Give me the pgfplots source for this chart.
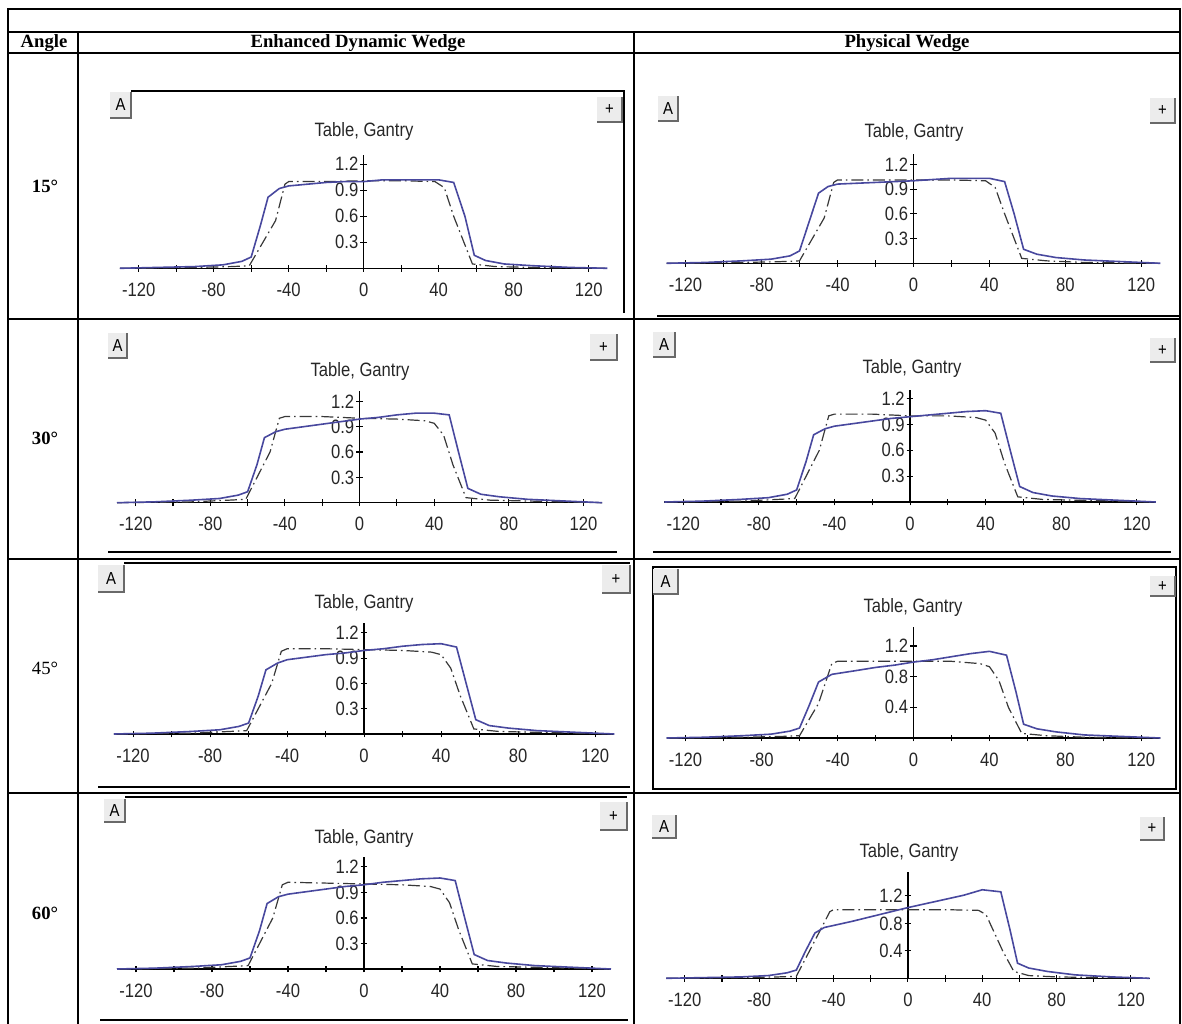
\documentclass[border=0pt]{standalone}
\usepackage{fontspec}
\setmainfont{Liberation Serif}
\newfontfamily\plotfont[FakeStretch=0.86]{Liberation Sans}
\usepackage{pgfplots}
\pgfplotsset{compat=1.18}
\definecolor{sol}{RGB}{72,72,158}
\definecolor{btn}{RGB}{236,236,236}
\definecolor{shd}{RGB}{105,105,105}
\pgfplotsset{
  panel/.style={
    scale only axis, axis lines=middle,
    axis line style={-, black, line width=1.0pt},
    xmin=-130, xmax=130, ymin=0,
    xtick={-120,-80,...,120}, minor xtick={-100,-60,-20,20,60,100},
    hide obscured x ticks=false, hide obscured y ticks=false,
    tick align=center, major tick length=5pt, minor tick length=5pt,
    every tick/.style={black, line width=0.8pt},
    every minor tick/.style={black, line width=0.8pt},
    every tick label/.append style={font=\plotfont\fontsize{14.5}{14.5}\selectfont, text=black!85},
    /pgf/number format/assume math mode=true,
    xticklabel style={yshift=-5pt},
    yticklabel style={xshift=2pt},
    clip=false,
  },
  sl/.style={sol, line width=1.2pt},
  dl/.style={black!78, line width=0.9pt, dash pattern=on 9pt off 3pt on 1.2pt off 3pt},
}
\newcommand{\btn}[5]{%
  \fill[btn] (#1,#2) rectangle (#3,#4);
  \draw[shd, line width=1.1pt] (#1,#4) -- (#3,#4) -- (#3,#2);
  \node[font=\plotfont\fontsize{13}{13}\selectfont, inner sep=0pt] at ({(#1+#3)/2},{(#2+#4)/2}) {#5};
}
\newcommand{\ttl}[2]{\node[font=\plotfont\fontsize{14.5}{14.5}\selectfont, text=black!85] at (#1,#2) {Table, Gantry};}
\begin{document}
\begin{tikzpicture}[x=0.75pt, y=-0.75pt]
\useasboundingbox (0,0) rectangle (1182,1024);
% ---------------- table grid
\draw[black, line width=1.1pt] (8,1024) -- (8,9) -- (1180,9) -- (1180,1024);
\draw[black, line width=1.1pt] (8,32) -- (1180,32);
\draw[black, line width=1.1pt] (8,53) -- (1180,53);
\draw[black, line width=1.1pt] (8,319) -- (1180,319);
\draw[black, line width=1.1pt] (8,559) -- (1180,559);
\draw[black, line width=1.1pt] (8,793) -- (1180,793);
\draw[black, line width=1.1pt] (78,32) -- (78,1024);
\draw[black, line width=1.1pt] (634,32) -- (634,1024);
\node[font=\bfseries\fontsize{14}{14}\selectfont] at (44,43) {Angle};
\node[font=\bfseries\fontsize{14}{14}\selectfont] at (358,43) {Enhanced Dynamic Wedge};
\node[font=\bfseries\fontsize{14}{14}\selectfont] at (907,43) {Physical Wedge};
\node[font=\bfseries\fontsize{14}{14}\selectfont] at (45,186) {15°};
\node[font=\bfseries\fontsize{14}{14}\selectfont] at (45,438) {30°};
\node[font=\fontsize{14}{14}\selectfont] at (45,668) {45°};
\node[font=\bfseries\fontsize{14}{14}\selectfont] at (45,913) {60°};
% ---------------- panel decorations
% EDW 15
\draw[black, line width=0.9pt] (131,91) -- (624,91) -- (624,313);
\btn{110}{92}{131}{118}{A}
\btn{597}{97}{622}{122}{+}
\ttl{364}{132}
% PW 15
\btn{658}{96}{678}{121}{A}
\btn{1150}{98}{1175}{123}{+}
\ttl{914}{133}
\draw[black, line width=0.9pt] (657,316) -- (1180,316);
% EDW 30
\btn{108}{333}{127}{358}{A}
\btn{590}{334}{617}{360}{+}
\ttl{360}{371}
\draw[black, line width=0.9pt] (108,552) -- (617,552);
% PW 30
\btn{653}{332}{675}{357}{A}
\btn{1150}{338}{1175}{362}{+}
\ttl{912}{368}
\draw[black, line width=0.9pt] (653,552) -- (1171,552);
% EDW 45
\draw[black, line width=0.9pt] (124,563) -- (630,563);
\btn{98}{565}{124}{592}{A}
\btn{602}{565}{630}{593}{+}
\ttl{364}{603}
\draw[black, line width=0.9pt] (98,787) -- (630,787);
% PW 45
\draw[black, line width=0.9pt] (653,567) rectangle (1176,789);
\btn{653}{569}{678}{594}{A}
\btn{1150}{576}{1175}{596}{+}
\ttl{913}{607}
% EDW 60
\draw[black, line width=0.9pt] (125,797) -- (627,797);
\btn{104}{799}{125}{822}{A}
\btn{600}{802}{627}{830}{+}
\ttl{364}{838}
\draw[black, line width=0.9pt] (100,1020) -- (628,1020);
% PW 60
\btn{652}{815}{676}{838}{A}
\btn{1140}{817}{1164}{840}{+}
\ttl{909}{852}
% anchor points of the axes
\coordinate (p1) at (119.95,268.3);
\coordinate (p2) at (666.6,263.3);
\coordinate (p3) at (117.0,502.7);
\coordinate (p4) at (664.3,502);
\coordinate (p5) at (113.85,734);
\coordinate (p6) at (666.6,738);
\coordinate (p7) at (117,969);
\coordinate (p8) at (666.2,978.3);
% ---------------- EDW 15
\begin{axis}[panel, at={(p1)}, anchor=south west, width=365.6pt, height=85.0pt, ymax=1.307, ytick={0.3,0.6,0.9,1.2}]
\addplot[dl] coordinates {(-130,0) (-90,0.01) (-70,0.02) (-61,0.03) (-47,0.55) (-42,0.97) (-40,1.0) (-20,1.0) (0,1.01) (20,1.01) (38,1.0) (43,0.93) (48,0.6) (58,0.05) (70,0.02) (90,0.01) (130,0)};
\addplot[sl] coordinates {(-130,0.0) (-110,0.01) (-90,0.02) (-75,0.04) (-65,0.08) (-60,0.13) (-55,0.5) (-51,0.82) (-45,0.92) (-40,0.95) (-30,0.97) (-20,0.99) (-10,1.0) (0,1.0) (10,1.02) (20,1.02) (30,1.02) (40,1.02) (48,0.99) (54,0.6) (59,0.15) (65,0.09) (75,0.05) (90,0.03) (110,0.01) (130,0.0)};
\end{axis}
% ---------------- PW 15
\begin{axis}[panel, at={(p2)}, anchor=south west, width=370.3pt, height=82.0pt, ymax=1.325, ytick={0.3,0.6,0.9,1.2}]
\addplot[dl] coordinates {(-130,0) (-90,0.01) (-70,0.02) (-60,0.03) (-47,0.55) (-42,0.98) (-40,1.01) (-20,1.01) (0,1.01) (20,1.01) (38,1.0) (43,0.92) (48,0.6) (57,0.06) (70,0.03) (90,0.01) (130,0)};
\addplot[sl] coordinates {(-130,0) (-110,0.01) (-90,0.03) (-75,0.05) (-65,0.09) (-60,0.15) (-55,0.5) (-50,0.85) (-45,0.93) (-40,0.96) (-20,0.98) (0,1.0) (20,1.03) (40,1.03) (48,0.99) (53,0.6) (58,0.17) (65,0.11) (75,0.07) (90,0.04) (110,0.02) (130,0)};
\end{axis}
% ---------------- EDW 30
\begin{axis}[panel, at={(p3)}, anchor=south west, width=363.9pt, height=83.8pt, ymax=1.323, ytick={0.3,0.6,0.9,1.2}]
\addplot[dl] coordinates {(-130,0) (-90,0.01) (-70,0.03) (-61,0.04) (-48,0.6) (-43,1.0) (-40,1.02) (-20,1.02) (0,1.0) (20,0.99) (35,0.97) (40,0.94) (45,0.8) (50,0.45) (57,0.06) (70,0.03) (90,0.02) (130,0)};
\addplot[sl] coordinates {(-130,0) (-110,0.01) (-90,0.03) (-75,0.05) (-65,0.09) (-60,0.13) (-55,0.45) (-51,0.77) (-45,0.84) (-40,0.87) (-30,0.9) (-20,0.93) (-10,0.96) (0,0.99) (10,1.01) (20,1.04) (30,1.06) (40,1.06) (48,1.04) (53,0.6) (58,0.17) (65,0.1) (75,0.07) (90,0.04) (110,0.02) (130,0.0)};
\end{axis}
% ---------------- PW 30
\begin{axis}[panel, at={(p4)}, anchor=south west, width=368.6pt, height=84pt, ymax=1.30, ytick={0.3,0.6,0.9,1.2}]
\addplot[dl] coordinates {(-130,0) (-90,0.01) (-70,0.03) (-61,0.04) (-48,0.6) (-43,1.0) (-40,1.02) (-20,1.02) (0,1.0) (20,1.0) (35,0.98) (40,0.95) (45,0.8) (50,0.45) (57,0.06) (70,0.03) (90,0.02) (130,0)};
\addplot[sl] coordinates {(-130,0) (-110,0.01) (-90,0.03) (-75,0.05) (-65,0.09) (-60,0.14) (-55,0.47) (-51,0.78) (-45,0.85) (-40,0.88) (-30,0.91) (-20,0.94) (-10,0.97) (0,0.99) (10,1.01) (20,1.03) (30,1.05) (40,1.06) (48,1.03) (53,0.6) (58,0.18) (65,0.11) (75,0.07) (90,0.04) (110,0.02) (130,0.0)};
\end{axis}
% ---------------- EDW 45
\begin{axis}[panel, at={(p5)}, anchor=south west, width=375.4pt, height=83.5pt, ymax=1.319, ytick={0.3,0.6,0.9,1.2}]
\addplot[dl] coordinates {(-130,0) (-90,0.01) (-70,0.03) (-61,0.04) (-48,0.6) (-43,0.98) (-40,1.01) (-20,1.01) (0,1.0) (20,0.99) (35,0.97) (40,0.94) (45,0.78) (50,0.45) (57,0.06) (70,0.03) (90,0.02) (130,0)};
\addplot[sl] coordinates {(-130,0) (-110,0.01) (-90,0.03) (-75,0.05) (-65,0.09) (-60,0.13) (-55,0.45) (-51,0.76) (-45,0.84) (-40,0.88) (-30,0.91) (-20,0.94) (-10,0.96) (0,0.99) (10,1.01) (20,1.04) (30,1.06) (40,1.07) (48,1.03) (53,0.6) (58,0.17) (65,0.1) (75,0.07) (90,0.04) (110,0.02) (130,0)};
\end{axis}
% ---------------- PW 45
\begin{axis}[panel, at={(p6)}, anchor=south west, width=370.3pt, height=83.0pt, ymax=1.443, ytick={0.4,0.8,1.2}]
\addplot[dl] coordinates {(-130,0) (-90,0.01) (-70,0.02) (-60,0.03) (-50,0.45) (-43,0.97) (-40,1.0) (-20,1.0) (0,1.0) (20,1.0) (35,0.97) (40,0.93) (45,0.75) (50,0.4) (57,0.06) (70,0.03) (90,0.01) (130,0)};
\addplot[sl] coordinates {(-130,0) (-110,0.01) (-90,0.03) (-75,0.05) (-65,0.09) (-60,0.13) (-55,0.42) (-50,0.73) (-43,0.83) (-30,0.88) (-20,0.92) (-10,0.95) (0,0.99) (10,1.02) (20,1.06) (30,1.1) (40,1.13) (49,1.08) (54,0.6) (58,0.18) (65,0.12) (75,0.08) (90,0.04) (110,0.02) (130,0)};
\end{axis}
% ---------------- EDW 60
\begin{axis}[panel, at={(p7)}, anchor=south west, width=370.5pt, height=84.2pt, ymax=1.32, ytick={0.3,0.6,0.9,1.2}]
\addplot[dl] coordinates {(-130,0) (-90,0.01) (-70,0.03) (-61,0.04) (-48,0.6) (-43,0.99) (-40,1.02) (-20,1.01) (0,1.0) (20,0.99) (35,0.97) (40,0.94) (45,0.78) (50,0.45) (57,0.06) (70,0.03) (90,0.02) (130,0)};
\addplot[sl] coordinates {(-130,0) (-110,0.01) (-90,0.03) (-75,0.05) (-65,0.09) (-60,0.13) (-55,0.45) (-51,0.77) (-45,0.85) (-40,0.88) (-30,0.91) (-20,0.94) (-10,0.97) (0,0.99) (10,1.02) (20,1.04) (30,1.06) (40,1.07) (48,1.04) (53,0.6) (58,0.17) (65,0.1) (75,0.07) (90,0.04) (110,0.02) (130,0)};
\end{axis}
% ---------------- PW 60
\begin{axis}[panel, at={(p8)}, anchor=south west, width=362.5pt, height=80.0pt, ymax=1.554, ytick={0.4,0.8,1.2}]
\addplot[dl] coordinates {(-130,0) (-90,0.01) (-70,0.02) (-60,0.03) (-50,0.55) (-42,0.97) (-40,1.0) (-20,1.0) (0,1.0) (20,1.0) (38,0.99) (42,0.93) (51,0.4) (57,0.1) (65,0.04) (80,0.02) (130,0)};
\addplot[sl] coordinates {(-130,0) (-110,0.01) (-90,0.02) (-75,0.04) (-65,0.08) (-60,0.12) (-55,0.4) (-50,0.66) (-45,0.74) (-30,0.83) (-15,0.93) (0,1.03) (15,1.12) (30,1.21) (40,1.29) (50,1.26) (55,0.7) (59,0.22) (65,0.15) (75,0.1) (90,0.05) (110,0.02) (130,0)};
\end{axis}
\end{tikzpicture}
\end{document}
